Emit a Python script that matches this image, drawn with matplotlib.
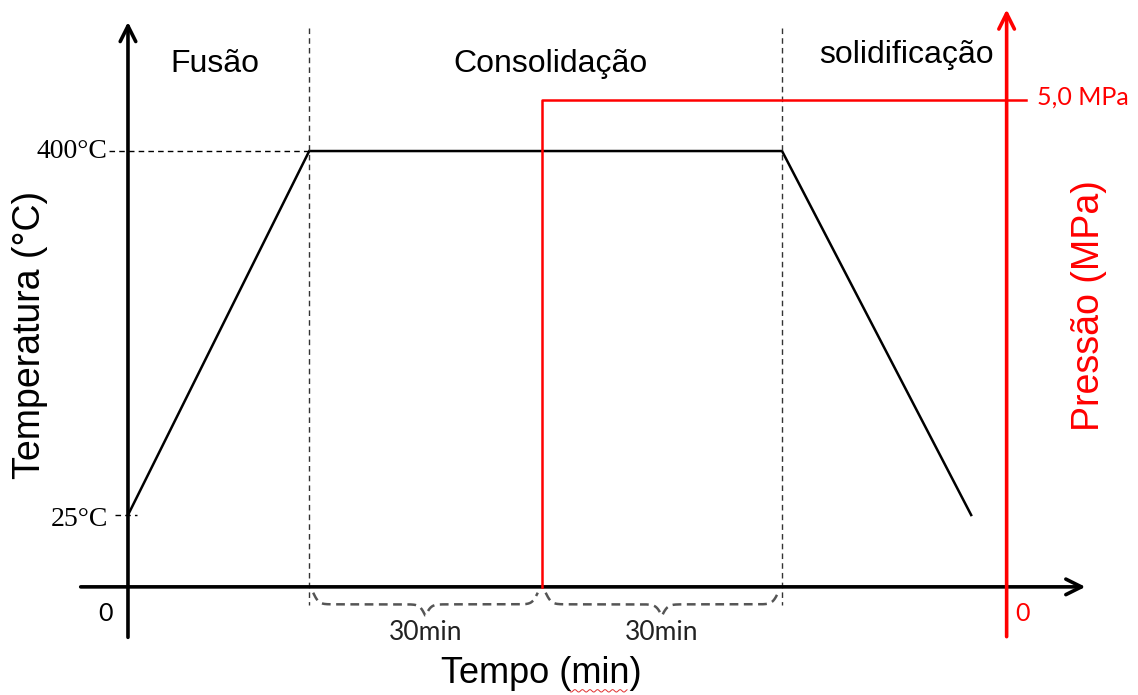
import numpy as np
import matplotlib.pyplot as plt

# schematic time (min) and temperature (°C) of the cycle
time_pts = [0, 23, 83, 107]
temp_pts = [25, 400, 400, 25]
phase_bounds = [23, 83]          # dashed separators
press_start = 52.5                # pressure applied
press_time = [press_start, press_start, 114]
press_vals = [0, 5.0, 5.0]
brace_spans = [(23, 52.5), (52.5, 83)]
brace_labels = ['30min', '30min']
phases = ['Fusão', 'Consolidação', 'solidificação']
phase_x = [11, 53.6, 98.8]
phase_y = [490, 490, 499]

# axis geometry (schematic units)
x_axis_y = -49
p_axis_t = 111.5

fig = plt.figure(figsize=(11.38, 6.95), dpi=100)
ax = fig.add_axes([0, 0, 1, 1])
ax.set_xlim(-16.24, 128.17)
ax.set_ylim(-160.4, 555.6)
ax.axis('off')
ax2 = ax.twinx()
ax2.set_position([0, 0, 1, 1])
ax2.set_ylim(-1.109, 6.027)
ax2.axis('off')

# axes with arrows
ax.annotate('', xy=(121.5, x_axis_y), xytext=(-6, x_axis_y),
            arrowprops=dict(arrowstyle='->', lw=2.6, color='black', mutation_scale=28,
                            shrinkA=0, shrinkB=0))
ax.annotate('', xy=(0, 533), xytext=(0, -101),
            arrowprops=dict(arrowstyle='->', lw=2.6, color='black', mutation_scale=28,
                            shrinkA=0, shrinkB=0))
ax2.annotate('', xy=(p_axis_t, 5.93), xytext=(p_axis_t, -0.51),
             arrowprops=dict(arrowstyle='->', lw=2.6, color='red', mutation_scale=28,
                             shrinkA=0, shrinkB=0))

# temperature curve
ax.plot(time_pts, temp_pts, color='black', lw=1.8, solid_joinstyle='miter')

# phase separators
for t in phase_bounds:
    ax.plot([t, t], [527, -68], color='#333333', lw=1.0, ls=(0, (4, 3)))

# reference lines to the temperature labels
ax.plot([-2.4, time_pts[1]], [400, 400], color='black', lw=1.0, ls=(0, (4, 3)))
ax.plot([-1.6, 1.2], [25, 25], color='black', lw=1.0, ls=(0, (4, 3)))

# pressure line
ax2.plot(press_time, press_vals, color='red', lw=1.8)

# braces under the time axis
def brace(x0, x1, ytop, h):
    u = np.linspace(0, 1, 400)
    b = 80
    half = np.where(u <= 0.5, u, 1 - u)
    yy = 1 / (1 + np.exp(-b * half)) + 1 / (1 + np.exp(-b * (half - 0.5))) - 0.5
    xs = x0 + (x1 - x0) * u
    ax.plot(xs, ytop - h * yy, color='#555555', lw=1.8, ls=(0, (3.5, 2.2)))

for (a, b_), lab in zip(brace_spans, brace_labels):
    brace(a + 0.5, b_ - 0.5, -55, 24)
    ax.text((a + b_) / 2, -96, lab, fontsize=19, family='Lato',
            ha='center', va='center', color='#222222')

# temperature labels
ax.text(-2.6, 400, '400°C', fontsize=20, family='Liberation Serif',
        ha='right', va='center')
ax.text(-2.5, 20, '25°C', fontsize=20, family='Liberation Serif',
        ha='right', va='center')
ax.text(-1.9, -76, '0', fontsize=18, family='Lato', ha='right', va='center')

# pressure labels
ax2.text(115.3, 5.03, '5,0 MPa', fontsize=18, family='Lato', color='red',
         ha='left', va='center')
ax2.text(112.6, -0.27, '0', fontsize=18, family='Lato', color='red',
         ha='left', va='center')

# phase names
for name, x, y in zip(phases, phase_x, phase_y):
    ax.text(x, y, name, fontsize=23, family='Liberation Sans', ha='center', va='center')

# axis titles
fig.text(0.026, 0.518, 'Temperatura (°C)', rotation=90, fontsize=27,
         family='Liberation Sans', ha='center', va='center')
fig.text(0.957, 0.56, 'Pressão (MPa)', rotation=90, fontsize=27, color='red',
         family='Liberation Sans', ha='center', va='center')
fig.text(0.476, 0.031, 'Tempo (min)', fontsize=26, family='Liberation Sans',
         ha='center', va='center')

# spell-check squiggle under "min"
wx = np.linspace(0.501, 0.551, 60)
fig.lines.append(plt.Line2D(wx, 0.006 + 0.0018 * np.sin(wx * 1138 / 1.2),
                            transform=fig.transFigure, color='#e03030', lw=0.7))

fig.savefig('out.png', dpi=100, facecolor='white')
